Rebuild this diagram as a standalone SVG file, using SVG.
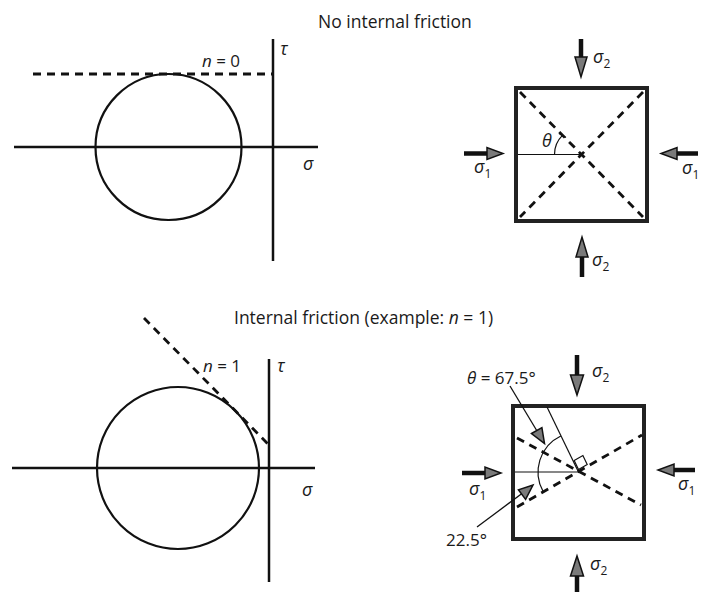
<svg xmlns="http://www.w3.org/2000/svg" width="710" height="592" viewBox="0 0 710 592">
<style>
text{font-family:"Open Sans","DejaVu Sans",sans-serif;fill:#1a1a1a}
.t{font-size:17.5px}
.l{font-size:17px}
.g{font-size:18px}
.i{font-style:italic}
.sub{font-size:12px;font-style:normal}
.ax{stroke:#111;stroke-width:2.5;fill:none}
.circ{stroke:#111;stroke-width:2.2;fill:none}
.dash{stroke:#111;stroke-width:2.8;stroke-dasharray:8 6;fill:none}
.thin{stroke:#111;stroke-width:1.2;fill:none}
.box{stroke:#222;stroke-width:4;fill:none}
.shaft{stroke:#111;stroke-width:4.5;fill:none}
.head{fill:#7a7a7a;stroke:#111;stroke-width:1.5;stroke-linejoin:miter}
.ptr{stroke:#111;stroke-width:1.3;fill:none}
</style>

<!-- Titles -->
<text id="title1" class="t" x="318" y="28">No internal friction</text>
<text id="title2" class="t" x="234" y="324">Internal friction (example: <tspan class="i">n</tspan> = 1)</text>

<!-- Top Mohr diagram -->
<g id="mohr-top">
  <line class="ax" x1="14" y1="147" x2="318" y2="147"/>
  <line class="ax" x1="273" y1="39" x2="273" y2="261"/>
  <circle class="circ" cx="168.5" cy="147" r="73"/>
  <line class="dash" x1="33" y1="74" x2="273" y2="74"/>
  <text class="l" x="202" y="67"><tspan class="i">n</tspan> = 0</text>
  <text class="g i" x="280" y="55">τ</text>
  <text class="g i" x="303" y="170">σ</text>
</g>

<!-- Top block -->
<g id="block-top">
  <rect class="box" x="516" y="88" width="131" height="133"/>
  <line class="dash" x1="520" y1="92" x2="643" y2="217"/>
  <line class="dash" x1="643" y1="92" x2="520" y2="217"/>
  <line class="thin" x1="518" y1="154.5" x2="581.5" y2="154.5"/>
  <path class="thin" d="M554.5,154.5 A27 27 0 0 1 562.4,135.4"/>
  <line class="ptr" x1="559" y1="133.5" x2="566" y2="137.5" stroke-width="2"/>
  <text class="g i" x="542" y="147">θ</text>
</g>

<g id="arrows-top">
  <line class="shaft" x1="581" y1="39" x2="581" y2="58"/>
  <polygon class="head" points="575,57 587,57 581,77"/>
  <text class="g" x="593" y="63"><tspan class="i">σ</tspan><tspan class="sub" dy="5">2</tspan></text>

  <line class="shaft" x1="582" y1="277" x2="582" y2="256"/>
  <polygon class="head" points="576,257 588,257 582,237"/>
  <text class="g" x="592" y="266"><tspan class="i">σ</tspan><tspan class="sub" dy="5">2</tspan></text>

  <line class="shaft" x1="464" y1="153.5" x2="488" y2="153.5"/>
  <polygon class="head" points="487,147.5 487,159.5 503,153.5"/>
  <text class="g" x="474" y="173"><tspan class="i">σ</tspan><tspan class="sub" dy="5">1</tspan></text>

  <line class="shaft" x1="698" y1="153.5" x2="676" y2="153.5"/>
  <polygon class="head" points="677,147.5 677,159.5 661,153.5"/>
  <text class="g" x="682" y="174"><tspan class="i">σ</tspan><tspan class="sub" dy="5">1</tspan></text>
</g>

<!-- Bottom Mohr diagram -->
<g id="mohr-bottom">
  <line class="ax" x1="12" y1="468" x2="315" y2="468"/>
  <line class="ax" x1="269" y1="359" x2="269" y2="582"/>
  <circle class="circ" cx="178" cy="468" r="81"/>
  <line class="dash" x1="144" y1="318" x2="268" y2="444"/>
  <text class="l" x="203" y="372"><tspan class="i">n</tspan> = 1</text>
  <text class="g i" x="277" y="372">τ</text>
  <text class="g i" x="302" y="496">σ</text>
</g>

<!-- Bottom block -->
<g id="block-bottom">
  <rect class="box" x="513" y="406" width="131" height="133"/>
  <line class="dash" x1="517" y1="438" x2="641" y2="505"/>
  <line class="dash" x1="517" y1="507" x2="642" y2="435"/>
  <line class="thin" x1="515" y1="472" x2="578" y2="472"/>
  <line class="thin" x1="547" y1="407" x2="578" y2="471"/>
  <polygon class="thin" points="578.5,469.5 574.2,460.5 582.9,455.5 587.2,464.5"/>
  <path class="thin" d="M560.8,436 A40 40 0 0 0 543.3,491.9"/>
</g>

<g id="angle-labels">
  <text class="l" x="467" y="384"><tspan class="i">θ</tspan> = 67.5°</text>
  <line class="ptr" x1="510" y1="386" x2="537" y2="431"/>
  <polygon class="head" points="531.5,433.5 541.9,427.6 544.5,443.5"/>
  <text class="l" x="446" y="546">22.5°</text>
  <line class="ptr" x1="477" y1="527" x2="522" y2="493.5"/>
  <polygon class="head" points="518.4,489.8 525.6,499.4 533,485"/>
</g>

<g id="arrows-bottom">
  <line class="shaft" x1="577" y1="355" x2="577" y2="376"/>
  <polygon class="head" points="570.5,375 583.5,375 577,395"/>
  <text class="g" x="592" y="377"><tspan class="i">σ</tspan><tspan class="sub" dy="5">2</tspan></text>

  <line class="shaft" x1="577" y1="592" x2="577" y2="575"/>
  <polygon class="head" points="570.5,576 583.5,576 577,556"/>
  <text class="g" x="590" y="570"><tspan class="i">σ</tspan><tspan class="sub" dy="5">2</tspan></text>

  <line class="shaft" x1="462" y1="473" x2="486" y2="473"/>
  <polygon class="head" points="485,467 485,479 501,473"/>
  <text class="g" x="469" y="495"><tspan class="i">σ</tspan><tspan class="sub" dy="5">1</tspan></text>

  <line class="shaft" x1="695" y1="470" x2="673" y2="470"/>
  <polygon class="head" points="674,464 674,476 658,470"/>
  <text class="g" x="678" y="490"><tspan class="i">σ</tspan><tspan class="sub" dy="5">1</tspan></text>
</g>
</svg>
